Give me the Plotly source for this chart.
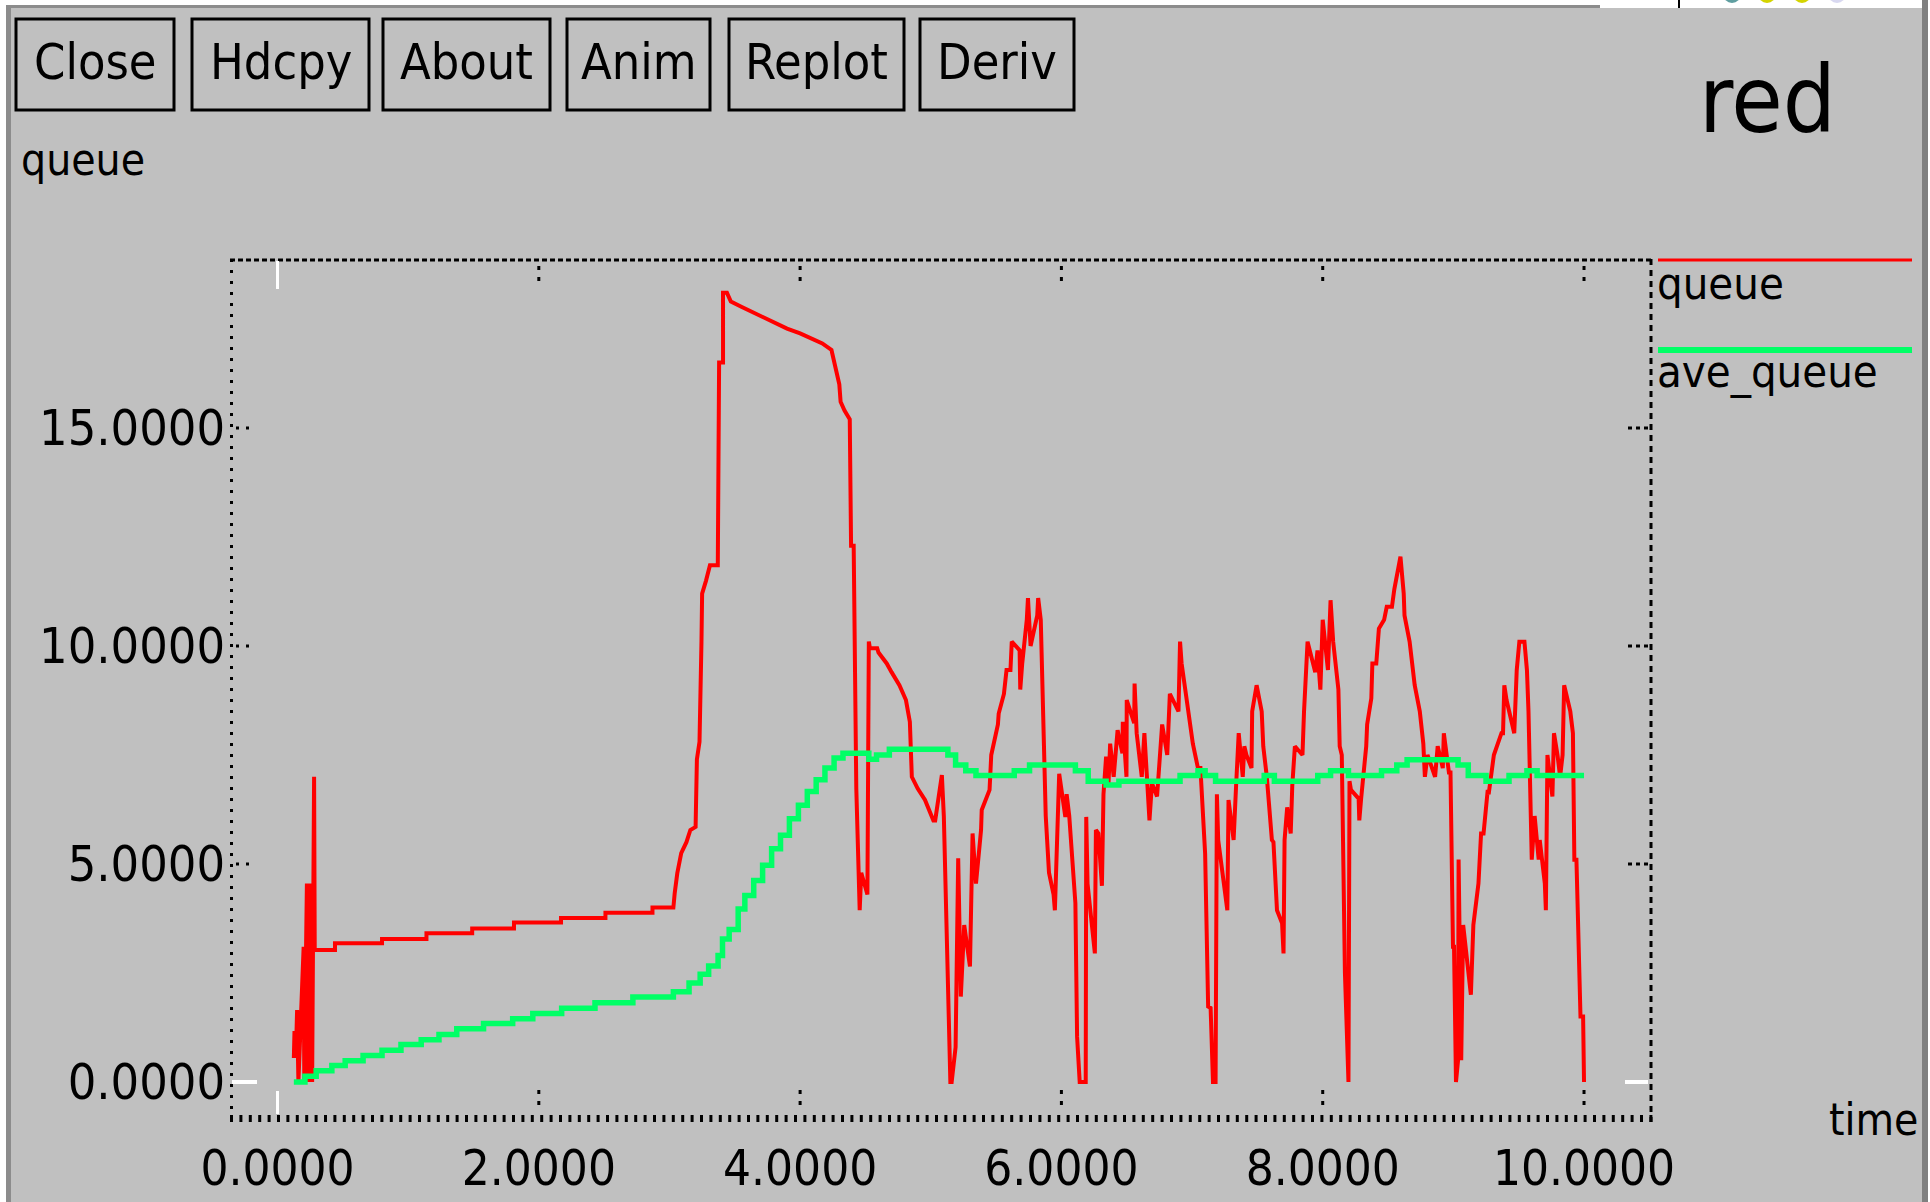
import plotly.graph_objects as go

# ---------------- data ----------------
queue_time = [0.125, 0.13, 0.14, 0.15, 0.16, 0.18, 0.2, 0.205, 0.215, 0.225, 0.235, 0.25, 0.265, 0.27, 0.28, 0.285,
              0.44, 0.44, 0.80, 0.80, 1.14, 1.14, 1.49, 1.49, 1.81, 1.81, 2.17, 2.17, 2.51, 2.51, 2.87, 2.87, 3.03,
              3.04, 3.06, 3.09, 3.13, 3.16, 3.20, 3.21, 3.23, 3.245, 3.25, 3.28, 3.31, 3.37, 3.38, 3.41, 3.41, 3.44,
              3.47, 3.55, 3.63, 3.70, 3.80, 3.90, 4.00, 4.09, 4.17, 4.24, 4.27, 4.30, 4.31, 4.34, 4.38, 4.39, 4.41,
              4.43, 4.456, 4.468, 4.515, 4.526, 4.534, 4.59, 4.60, 4.64, 4.663, 4.70, 4.74, 4.76, 4.81, 4.84, 4.855,
              4.90, 4.956, 5.02, 5.034, 5.07, 5.085, 5.10, 5.13, 5.15, 5.16, 5.19, 5.21, 5.23, 5.256, 5.30, 5.32,
              5.346, 5.385, 5.39, 5.45, 5.463, 5.514, 5.52, 5.56, 5.58, 5.61, 5.62, 5.68, 5.685, 5.70, 5.735, 5.744,
              5.764, 5.815, 5.822, 5.842, 5.88, 5.905, 5.94, 5.95, 5.983, 6.03, 6.04, 6.06, 6.107, 6.12, 6.14, 6.186,
              6.19, 6.20, 6.256, 6.264, 6.283, 6.31, 6.322, 6.342, 6.36, 6.373, 6.40, 6.43, 6.467, 6.47, 6.498, 6.50,
              6.557, 6.56, 6.576, 6.615, 6.635, 6.674, 6.693, 6.732, 6.771, 6.81, 6.83, 6.896, 6.908, 6.92, 6.96,
              7.006, 7.045, 7.064, 7.10, 7.123, 7.142, 7.16, 7.18, 7.19, 7.20, 7.27, 7.279, 7.318, 7.337, 7.357,
              7.388, 7.40, 7.416, 7.455, 7.46, 7.494, 7.533, 7.545, 7.572, 7.611, 7.623, 7.65, 7.689, 7.70, 7.708,
              7.728, 7.755, 7.767, 7.787, 7.845, 7.857, 7.884, 7.943, 7.96, 7.982, 8.0, 8.04, 8.06, 8.08, 8.12, 8.13,
              8.146, 8.17, 8.197, 8.205, 8.216, 8.275, 8.28, 8.294, 8.333, 8.34, 8.372, 8.38, 8.41, 8.43, 8.47, 8.49,
              8.53, 8.548, 8.57, 8.595, 8.62, 8.626, 8.665, 8.704, 8.743, 8.77, 8.782, 8.802, 8.86, 8.88, 8.919,
              8.927, 8.966, 8.978, 8.997, 9.005, 9.02, 9.036, 9.04, 9.06, 9.075, 9.134, 9.153, 9.192, 9.212, 9.231,
              9.263, 9.27, 9.31, 9.368, 9.38, 9.39, 9.407, 9.466, 9.485, 9.505, 9.544, 9.563, 9.575, 9.60, 9.622,
              9.653, 9.661, 9.70, 9.708, 9.72, 9.758, 9.77, 9.797, 9.817, 9.836, 9.848, 9.895, 9.915, 9.926, 9.942,
              9.973, 9.993, 10.0]
queue_len = [0.55, 1.17, 0.55, 1.65, 0.0, 1.65, 3.1, 0.0, 3.1, 4.55, 0.0, 4.55, 0.0, 4.55, 7.0, 3.03,
             3.03, 3.18, 3.18, 3.28, 3.28, 3.41, 3.41, 3.52, 3.52, 3.66, 3.66, 3.76, 3.76, 3.88, 3.88, 4.0, 4.0,
             4.33, 4.79, 5.25, 5.5, 5.78, 5.85, 7.4, 7.8, 10.1, 11.2, 11.5, 11.85, 11.85, 16.5, 16.5, 18.1, 18.1,
             17.9, 17.78, 17.67, 17.55, 17.42, 17.28, 17.17, 17.05, 16.94, 16.79, 16.4, 16.0, 15.6, 15.4, 15.2, 12.3,
             12.3, 6.74, 3.94, 4.8, 4.3, 10.1, 9.95, 9.95, 9.85, 9.7, 9.6, 9.4, 9.2, 9.1, 8.76, 8.26, 7.0,
             6.73, 6.47, 6.0, 6.0, 6.81, 7.04, 6.1, 2.65, 0.0, 0.0, 0.8, 5.13, 1.96, 3.6, 2.65, 5.7,
             4.55, 5.78, 6.24, 6.7, 7.5, 8.2, 8.45, 8.9, 9.45, 9.45, 10.1, 9.9, 9.0, 9.6, 10.6, 11.1,
             10.0, 10.7, 11.1, 10.6, 6.1, 4.8, 4.3, 3.94, 7.07, 6.08, 6.6, 6.1, 4.1, 1.04, 0.0, 0.0,
             6.08, 4.55, 2.95, 5.78, 5.7, 4.5, 6.6, 7.46, 6.8, 7.76, 7.0, 8.07, 7.54, 8.26, 7.0, 8.76,
             8.23, 9.14, 8.0, 7.0, 8.0, 6.0, 6.85, 6.55, 8.2, 7.5, 8.9, 8.5, 10.1, 9.6, 8.8,
             7.76, 7.2, 7.2, 5.24, 1.73, 1.7, 0.0, 0.0, 6.6, 5.55, 3.94, 6.47, 5.55, 6.8, 8.0,
             7.0, 7.7, 7.5, 7.2, 8.5, 9.1, 8.5, 7.7, 7.0, 5.55, 5.5, 3.94, 3.64, 2.95, 5.55,
             6.3, 5.7, 6.8, 7.7, 7.5, 8.5, 10.1, 9.4, 9.9, 9.0, 10.6, 9.45, 11.05, 10.1, 9.0, 7.7,
             7.5, 2.5, 0.0, 6.9, 6.7, 6.5, 6.0, 6.5, 7.7, 8.2, 8.8, 9.6, 9.6, 10.4, 10.6, 10.9,
             10.9, 11.3, 11.7, 12.05, 11.2, 10.7, 10.1, 9.1, 8.5, 7.76, 7.0, 7.5, 7.0, 7.7, 7.2,
             8.0, 7.1, 7.1, 3.1, 3.1, 0.0, 0.5, 5.1, 0.5, 3.6, 2.0, 3.6, 4.55, 5.7, 5.7,
             6.7, 6.6, 7.5, 8.0, 8.0, 9.1, 8.76, 8.0, 9.45, 10.1, 10.1, 9.45, 8.5, 5.1, 6.1,
             5.1, 5.55, 4.55, 3.94, 7.5, 6.55, 8.0, 7.5, 7.0, 7.5, 9.1, 8.5, 8.0, 5.1, 5.1,
             1.5, 1.5, 0.0]

ave_time = [0.125, 0.21, 0.296, 0.416, 0.518, 0.655, 0.80, 0.945, 1.10, 1.236, 1.372, 1.577, 1.80, 1.954, 2.175,
            2.43, 2.72, 3.03, 3.15, 3.235, 3.30, 3.372, 3.406, 3.457, 3.526, 3.577, 3.645, 3.713, 3.782, 3.85,
            3.918, 3.987, 4.055, 4.123, 4.19, 4.26, 4.328, 4.526, 4.585, 4.683, 5.131, 5.19, 5.268, 5.346, 5.639,
            5.756, 6.107, 6.205, 6.342, 6.44, 6.908, 7.045, 7.10, 7.18, 7.552, 7.63, 7.962, 8.06, 8.197, 8.45,
            8.567, 8.646, 9.036, 9.114, 9.25, 9.426, 9.563, 9.641, 10.0]
ave_len = [0.0, 0.13, 0.26, 0.38, 0.49, 0.61, 0.73, 0.86, 0.97, 1.09, 1.22, 1.34, 1.45, 1.57, 1.69,
           1.82, 1.95, 2.07, 2.27, 2.47, 2.66, 2.9, 3.28, 3.5, 3.97, 4.28, 4.62, 4.97, 5.35, 5.66,
           6.04, 6.35, 6.66, 6.93, 7.2, 7.43, 7.54, 7.4, 7.5, 7.63, 7.5, 7.27, 7.14, 7.03, 7.14,
           7.27, 7.14, 6.9, 6.81, 6.9, 7.03, 7.14, 7.03, 6.9, 7.03, 6.9, 7.03, 7.14, 7.03, 7.14,
           7.27, 7.39, 7.27, 7.03, 6.9, 7.03, 7.14, 7.03, 7.03]

x_tick_vals = [0, 2, 4, 6, 8, 10]
x_tick_text = ["0.0000", "2.0000", "4.0000", "6.0000", "8.0000", "10.0000"]
y_tick_vals = [0, 5, 10, 15]
y_tick_text = ["0.0000", "5.0000", "10.0000", "15.0000"]
button_labels = ["Close", "Hdcpy", "About", "Anim", "Replot", "Deriv"]
series_names = ["queue", "ave_queue"]
title_text = "red"
y_label = "queue"
x_label = "time"

# ---------------- layout geometry (pixels) ----------------
W, H = 1930, 1202
L, R, T, B = 230, 1650, 259, 1116
X_RANGE = [-0.3636, 10.505]
Y_RANGE = [-0.78, 18.876]
FONT = "DejaVu Sans Condensed, DejaVu Sans, sans-serif"
BG = "#c0c0c0"
RED = "#ff0000"
GREEN = "#00ff66"


def px(x):
    return (x - L) / (R - L)


def py(y):
    return (B - y) / (B - T)


fig = go.Figure()
fig.add_trace(go.Scatter(x=queue_time, y=queue_len, mode="lines", name=series_names[0],
                         line=dict(color=RED, width=4), showlegend=False))
fig.add_trace(go.Scatter(x=ave_time, y=ave_len, mode="lines", name=series_names[1],
                         line=dict(color=GREEN, width=5.5, shape="hv"), showlegend=False))

shapes = []
ann = []

# window chrome
shapes += [
    dict(type="rect", xref="paper", yref="paper", x0=px(0), x1=px(W), y0=py(0), y1=py(5),
         fillcolor="white", line=dict(width=0), layer="above"),
    dict(type="rect", xref="paper", yref="paper", x0=px(0), x1=px(6), y0=py(0), y1=py(H),
         fillcolor="white", line=dict(width=0), layer="above"),
    dict(type="rect", xref="paper", yref="paper", x0=px(6), x1=px(1600), y0=py(5), y1=py(8),
         fillcolor="#8c8c8c", line=dict(width=0), layer="above"),
    dict(type="rect", xref="paper", yref="paper", x0=px(1600), x1=px(1922), y0=py(0), y1=py(8),
         fillcolor="white", line=dict(width=0), layer="above"),
    dict(type="rect", xref="paper", yref="paper", x0=px(6), x1=px(11), y0=py(5), y1=py(H),
         fillcolor="#8c8c8c", line=dict(width=0), layer="above"),
    dict(type="rect", xref="paper", yref="paper", x0=px(1922), x1=px(1928), y0=py(0), y1=py(H),
         fillcolor="#808080", line=dict(width=0), layer="above"),
    dict(type="rect", xref="paper", yref="paper", x0=px(1928), x1=px(W), y0=py(0), y1=py(H),
         fillcolor="white", line=dict(width=0), layer="above"),
    dict(type="line", xref="paper", yref="paper", x0=px(1679), x1=px(1679), y0=py(0), y1=py(8),
         line=dict(color="black", width=2), layer="above"),
]
for cx, col in [(1732, "#5f9ea0"), (1767, "#d4d400"), (1802, "#d4d400"), (1837, "#d8d8f0")]:
    shapes.append(dict(type="circle", xref="paper", yref="paper", x0=px(cx - 9), x1=px(cx + 9),
                       y0=py(-15), y1=py(3), fillcolor=col, line=dict(width=0), layer="above"))

# buttons
button_boxes = [(16, 174), (192, 369), (383, 550), (567, 710), (729, 904), (920, 1074)]
for (bx0, bx1), lab in zip(button_boxes, button_labels):
    shapes.append(dict(type="rect", xref="paper", yref="paper", x0=px(bx0), x1=px(bx1),
                       y0=py(19), y1=py(110), line=dict(color="black", width=3), layer="above"))
    ann.append(dict(text=lab, xref="paper", yref="paper", x=px((bx0 + bx1) / 2), y=py(62),
                    xanchor="center", yanchor="middle", showarrow=False,
                    font=dict(family=FONT, size=50, color="black")))

# plot frame
shapes += [
    dict(type="line", xref="paper", yref="paper", x0=px(L), x1=px(R + 2), y0=py(260), y1=py(260),
         line=dict(color="black", width=3, dash="5px,3px"), layer="above"),
    dict(type="line", xref="paper", yref="paper", x0=px(L + 1.5), x1=px(L + 1.5), y0=py(T), y1=py(1122),
         line=dict(color="black", width=3, dash="3px,8px"), layer="above"),
    dict(type="line", xref="paper", yref="paper", x0=px(R + 1), x1=px(R + 1), y0=py(T), y1=py(1122),
         line=dict(color="black", width=3, dash="6px,5px"), layer="above"),
    dict(type="line", xref="paper", yref="paper", x0=px(L), x1=px(R + 3), y0=py(1118.5), y1=py(1118.5),
         line=dict(color="black", width=7, dash="3px,6.4px"), layer="above"),
]
# x ticks (dotted) on top and bottom
for v in x_tick_vals[1:]:
    shapes.append(dict(type="line", xref="x", yref="paper", x0=v, x1=v, y0=py(266), y1=py(284),
                       line=dict(color="black", width=3, dash="4px,7px"), layer="above"))
    shapes.append(dict(type="line", xref="x", yref="paper", x0=v, x1=v, y0=py(1090), y1=py(1106),
                       line=dict(color="black", width=3, dash="4px,7px"), layer="above"))
# y ticks (dotted) on left and right
for v in y_tick_vals[1:]:
    shapes.append(dict(type="line", xref="paper", yref="y", x0=px(236), x1=px(253), y0=v, y1=v,
                       line=dict(color="black", width=3, dash="3px,7px"), layer="above"))
    shapes.append(dict(type="line", xref="paper", yref="y", x0=px(1628), x1=px(1648), y0=v, y1=v,
                       line=dict(color="black", width=3, dash="4px,4px"), layer="above"))
# white origin marks
shapes += [
    dict(type="line", xref="x", yref="paper", x0=0, x1=0, y0=py(261), y1=py(289),
         line=dict(color="white", width=3), layer="above"),
    dict(type="line", xref="x", yref="paper", x0=0, x1=0, y0=py(1091), y1=py(1114),
         line=dict(color="white", width=3), layer="above"),
    dict(type="line", xref="paper", yref="y", x0=px(232), x1=px(257), y0=0, y1=0,
         line=dict(color="white", width=4), layer="above"),
    dict(type="line", xref="paper", yref="y", x0=px(1625), x1=px(1648), y0=0, y1=0,
         line=dict(color="white", width=4), layer="above"),
]

# legend (drawn like the original: line above the name)
shapes += [
    dict(type="line", xref="paper", yref="paper", x0=px(1658), x1=px(1912), y0=py(260), y1=py(260),
         line=dict(color=RED, width=3), layer="above"),
    dict(type="line", xref="paper", yref="paper", x0=px(1658), x1=px(1912), y0=py(350), y1=py(350),
         line=dict(color=GREEN, width=6), layer="above"),
]
ann += [
    dict(text=series_names[0], xref="paper", yref="paper", x=px(1655), y=py(283), xanchor="left",
         yanchor="middle", showarrow=False, font=dict(family=FONT, size=45, color="black")),
    dict(text=series_names[1], xref="paper", yref="paper", x=px(1655), y=py(371), xanchor="left",
         yanchor="middle", showarrow=False, font=dict(family=FONT, size=45, color="black")),
    dict(text=title_text, xref="paper", yref="paper", x=px(1768), y=py(100), xanchor="center",
         yanchor="middle", showarrow=False, font=dict(family=FONT, size=93, color="black")),
    dict(text=y_label, xref="paper", yref="paper", x=px(19), y=py(160), xanchor="left",
         yanchor="middle", showarrow=False, font=dict(family=FONT, size=44, color="black")),
    dict(text=x_label, xref="paper", yref="paper", x=px(1827), y=py(1119), xanchor="left",
         yanchor="middle", showarrow=False, font=dict(family=FONT, size=44, color="black")),
]

fig.update_layout(
    template="none",
    width=W, height=H, autosize=False,
    margin=dict(l=L, r=W - R, t=T, b=H - B, pad=0, autoexpand=False),
    paper_bgcolor=BG, plot_bgcolor=BG,
    showlegend=False,
    shapes=shapes, annotations=ann,
    xaxis=dict(range=X_RANGE, showgrid=False, zeroline=False, showline=False, automargin=False,
               tickmode="array", tickvals=x_tick_vals, ticktext=x_tick_text,
               ticks="outside", ticklen=9, tickcolor="rgba(0,0,0,0)",
               tickfont=dict(family=FONT, size=49, color="black"), fixedrange=True),
    yaxis=dict(range=Y_RANGE, showgrid=False, zeroline=False, showline=False, automargin=False,
               tickmode="array", tickvals=y_tick_vals, ticktext=y_tick_text,
               ticks="", ticklen=0, ticklabelstandoff=4,
               tickfont=dict(family=FONT, size=50, color="black"), fixedrange=True),
)

fig.write_html("out.html", config={"displayModeBar": False},
               post_script="document.body.style.margin='0';document.body.style.overflow='hidden';")
